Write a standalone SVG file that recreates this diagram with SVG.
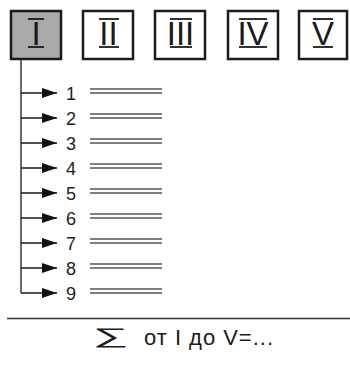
<svg xmlns="http://www.w3.org/2000/svg" width="350" height="365" viewBox="0 0 350 365">
<defs>
<style>
.box{fill:#fff;stroke:#1a1a1a;stroke-width:2.5}
.sel{fill:#aaaaaa}
.rn{font-family:"Liberation Sans",Arial,sans-serif;font-size:33px;fill:#1a1a1a;text-anchor:middle}
.bar{stroke:#1a1a1a;stroke-width:1.8}
.num{font-family:"Liberation Sans",Arial,sans-serif;font-size:18px;fill:#222}
.dl{stroke:#555;stroke-width:1.4}
.conn{stroke:#1a1a1a;stroke-width:1.3;fill:none}
.txt{font-family:"Liberation Sans",Arial,sans-serif;font-size:22px;fill:#1a1a1a}
</style>
<marker id="ah" markerUnits="userSpaceOnUse" markerWidth="16" markerHeight="11" refX="15" refY="5" orient="auto">
<path d="M0,0 L15,5 L0,10 z" fill="#111"/>
</marker>
</defs>
<rect width="350" height="365" fill="#fff"/>
<g id="box-I">
<rect class="box sel" x="11" y="11" width="50" height="48"/>
<text class="rn" x="36" y="45">I</text>
<line class="bar" x1="28" y1="19" x2="44" y2="19"/><line class="bar" x1="28" y1="47" x2="44" y2="47"/>
</g>
<g id="box-II">
<rect class="box" x="83" y="11" width="50" height="48"/>
<text class="rn" x="108.5" y="45">II</text>
<line class="bar" x1="99" y1="19" x2="119" y2="19"/><line class="bar" x1="99" y1="47" x2="119" y2="47"/>
</g>
<g id="box-III">
<rect class="box" x="155" y="11" width="50" height="48"/>
<text class="rn" x="180.5" y="45">III</text>
<line class="bar" x1="170" y1="19" x2="192" y2="19"/><line class="bar" x1="170" y1="47" x2="192" y2="47"/>
</g>
<g id="box-IV">
<rect class="box" x="228" y="11" width="50" height="48"/>
<text class="rn" x="253" y="45">IV</text>
<line class="bar" x1="239" y1="19" x2="267" y2="19"/><line class="bar" x1="239" y1="47" x2="267" y2="47"/>
</g>
<g id="box-V">
<rect class="box" x="299" y="11" width="48" height="48"/>
<text class="rn" x="323" y="45">V</text>
<line class="bar" x1="313" y1="19" x2="333" y2="19"/><line class="bar" x1="313" y1="47" x2="333" y2="47"/>
</g>
<g id="connectors">
<path class="conn" d="M21,60 V293"/>
<line class="conn" x1="21" y1="93" x2="57" y2="93" marker-end="url(#ah)"/>
<line class="conn" x1="21" y1="118" x2="57" y2="118" marker-end="url(#ah)"/>
<line class="conn" x1="21" y1="143" x2="57" y2="143" marker-end="url(#ah)"/>
<line class="conn" x1="21" y1="168" x2="57" y2="168" marker-end="url(#ah)"/>
<line class="conn" x1="21" y1="193" x2="57" y2="193" marker-end="url(#ah)"/>
<line class="conn" x1="21" y1="218" x2="57" y2="218" marker-end="url(#ah)"/>
<line class="conn" x1="21" y1="243" x2="57" y2="243" marker-end="url(#ah)"/>
<line class="conn" x1="21" y1="268" x2="57" y2="268" marker-end="url(#ah)"/>
<line class="conn" x1="21" y1="293" x2="57" y2="293" marker-end="url(#ah)"/>
</g>
<g id="item-1"><text class="num" x="66" y="99.5">1</text><line class="dl" x1="90" y1="89" x2="162" y2="89"/><line class="dl" x1="90" y1="93" x2="162" y2="93"/></g>
<g id="item-2"><text class="num" x="66" y="124.5">2</text><line class="dl" x1="90" y1="114" x2="162" y2="114"/><line class="dl" x1="90" y1="118" x2="162" y2="118"/></g>
<g id="item-3"><text class="num" x="66" y="149.5">3</text><line class="dl" x1="90" y1="139" x2="162" y2="139"/><line class="dl" x1="90" y1="143" x2="162" y2="143"/></g>
<g id="item-4"><text class="num" x="66" y="174.5">4</text><line class="dl" x1="90" y1="164" x2="162" y2="164"/><line class="dl" x1="90" y1="168" x2="162" y2="168"/></g>
<g id="item-5"><text class="num" x="66" y="199.5">5</text><line class="dl" x1="90" y1="189" x2="162" y2="189"/><line class="dl" x1="90" y1="193" x2="162" y2="193"/></g>
<g id="item-6"><text class="num" x="66" y="224.5">6</text><line class="dl" x1="90" y1="214" x2="162" y2="214"/><line class="dl" x1="90" y1="218" x2="162" y2="218"/></g>
<g id="item-7"><text class="num" x="66" y="249.5">7</text><line class="dl" x1="90" y1="239" x2="162" y2="239"/><line class="dl" x1="90" y1="243" x2="162" y2="243"/></g>
<g id="item-8"><text class="num" x="66" y="274.5">8</text><line class="dl" x1="90" y1="264" x2="162" y2="264"/><line class="dl" x1="90" y1="268" x2="162" y2="268"/></g>
<g id="item-9"><text class="num" x="66" y="299.5">9</text><line class="dl" x1="90" y1="289" x2="162" y2="289"/><line class="dl" x1="90" y1="293" x2="162" y2="293"/></g>
<g id="summary">
<line x1="7" y1="318.5" x2="350" y2="318.5" stroke="#333" stroke-width="1.3"/>
<text class="txt" x="92" y="343" textLength="36" lengthAdjust="spacingAndGlyphs" style="font-size:21px">∑</text>
<text class="txt" x="144" y="345" textLength="129">от I до V=...</text>
</g>
</svg>
